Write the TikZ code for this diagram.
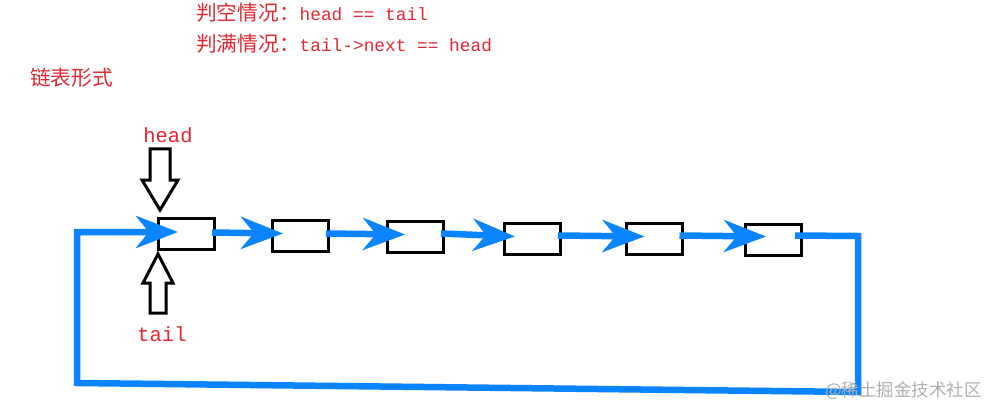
\documentclass[tikz,border=0pt]{standalone}
\usepackage{fontspec}
\newfontfamily\cjk{Noto Sans CJK SC}
\newfontfamily\mono{Liberation Mono}
\usetikzlibrary{arrows.meta}
\definecolor{txtred}{RGB}{225,40,50}
\definecolor{lnblue}{RGB}{10,132,255}
\definecolor{wmgray}{RGB}{175,175,175}
\begin{document}
\begin{tikzpicture}[x=1pt,y=-1pt,
  cell/.style={draw=black,line width=3pt,minimum width=56pt,minimum height=31pt,inner sep=0pt},
  link/.style={draw=lnblue,line width=6.5pt,line join=miter,-{Stealth[length=42pt,width=32pt,inset=13pt]}},
  ptr/.style={draw=black,line width=3pt,fill=white,line join=miter},
  lbl/.style={text=txtred,inner sep=0pt,anchor=west},
  ptrlbl/.style={text=txtred,inner sep=0pt,font=\mono\fontsize{20.5pt}{22pt}\selectfont}
]
\useasboundingbox (0,0) rectangle (1000,414);
\fill[white] (0,0) rectangle (1000,414);

% title texts
\node[lbl] (t1) at (196,13) {{\cjk\fontsize{20.7pt}{22pt}\selectfont 判空情况：}{\mono\fontsize{17.8pt}{20pt}\selectfont head == tail}};
\node[lbl] (t2) at (196,44) {{\cjk\fontsize{20.7pt}{22pt}\selectfont 判满情况：}{\mono\fontsize{17.8pt}{20pt}\selectfont tail->next == head}};
\node[lbl] (t3) at (30,78) {\cjk\fontsize{20.7pt}{22pt}\selectfont 链表形式};

% cells
\node[cell] (b1) at (186.5,233.5) {};
\node[cell] (b2) at (300.5,235.5) {};
\node[cell] (b3) at (415.5,236.5) {};
\node[cell] (b4) at (532.5,238.5) {};
\node[cell] (b5) at (654,238.5) {};
\node[cell] (b6) at (773.5,239.5) {};

% links
\draw[link] ([xshift=-4pt,yshift=1pt]b1.east) -- ([xshift=12pt,yshift=2pt]b2.west);
\draw[link] ([xshift=-4pt,yshift=2pt]b2.east) -- ([xshift=19pt,yshift=2pt]b3.west);
\draw[link] ([xshift=-4pt,yshift=3pt]b3.east) -- ([xshift=12pt,yshift=2pt]b4.west);
\draw[link] ([xshift=-4pt,yshift=3pt]b4.east) -- ([xshift=20pt,yshift=2pt]b5.west);
\draw[link] ([xshift=-4pt,yshift=3pt]b5.east) -- ([xshift=22pt,yshift=3pt]b6.west);

% return loop
\coordinate (r1) at (858,236);
\coordinate (r2) at (858,392);
\coordinate (r3) at (77,383);
\coordinate (r4) at (77,232);
\draw[link] ([xshift=-8pt,yshift=4pt]b6.east) -- (r1) -- (r2) -- (r3) -- (r4) -- ([xshift=21pt,yshift=1.5pt]b1.west);

% head pointer
\draw[ptr] (150,149) -- (170,149) -- (170,180) -- (178,180) -- (160,210) -- (142,180) -- (150,180) -- cycle;
\node[ptrlbl] (hl) at (168,135) {head};
% tail pointer
\draw[ptr] (150,313) -- (166,313) -- (166,283) -- (173,283) -- (158,254) -- (143,283) -- (150,283) -- cycle;
\node[ptrlbl] (tl) at (162,334) {tail};

% watermark
\node[inner sep=0pt,anchor=west,text=wmgray] (wm) at (825,391) {\cjk\fontsize{17.5pt}{19pt}\selectfont @稀土掘金技术社区};
\end{tikzpicture}
\end{document}
